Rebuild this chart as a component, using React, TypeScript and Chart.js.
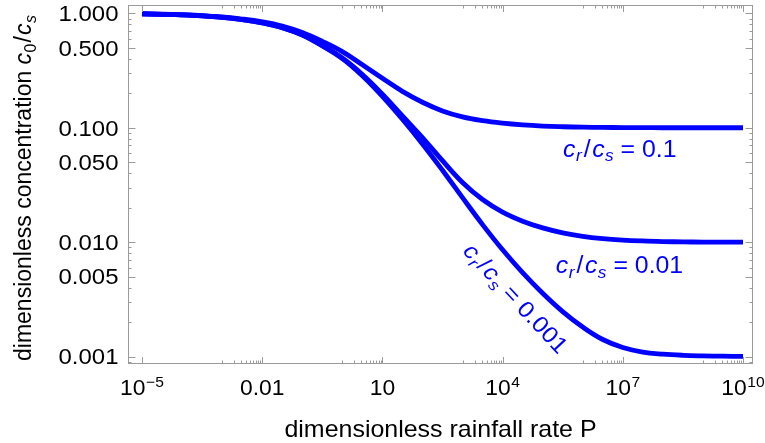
import React, { useEffect, useRef } from 'react';
import { Chart, registerables } from 'chart.js';

Chart.register(...registerables);

// ---- data (log10 values) ----
const rainfallExponents = [-5, -4.5, -4, -3.5, -3, -2.5, -2, -1.5, -1, -0.5, 0, 0.5, 1, 1.5, 2, 2.5, 3, 3.5, 4, 4.5, 5, 5.5, 6, 6.5, 7, 7.5, 8, 8.5, 9, 9.5, 10];

const logConcRatio0_1 = [-0.004, -0.008, -0.013, -0.020, -0.032, -0.050, -0.075, -0.112, -0.168, -0.245, -0.335, -0.450, -0.568, -0.682, -0.777, -0.853, -0.905, -0.938, -0.960, -0.975, -0.985, -0.991, -0.995, -0.997, -0.998, -0.999, -1.0, -1.0, -1.0, -1.0, -1.0];

const logConcRatio0_01 = [-0.005, -0.009, -0.014, -0.022, -0.035, -0.055, -0.083, -0.125, -0.188, -0.281, -0.390, -0.534, -0.706, -0.896, -1.086, -1.288, -1.478, -1.627, -1.737, -1.816, -1.875, -1.918, -1.948, -1.968, -1.981, -1.989, -1.994, -1.997, -1.999, -2.0, -2.0];

const logConcRatio0_001 = [-0.005, -0.009, -0.014, -0.022, -0.035, -0.055, -0.083, -0.125, -0.190, -0.285, -0.396, -0.546, -0.726, -0.926, -1.141, -1.371, -1.611, -1.846, -2.066, -2.266, -2.446, -2.606, -2.741, -2.850, -2.920, -2.960, -2.978, -2.988, -2.993, -2.996, -2.997];

const curveRatioLabels = ['0.1', '0.01', '0.001'];

// axis ranges (log10)
const xRangeExp = [-5.349, 10.25];
const yRangeExp = [-3.064, 0.0725];

// tick values & labels
const xMajorExponents = [-5, -2, 1, 4, 7, 10];
const xTickBase = ['10', '0.01', '10', '10', '10', '10'];
const xTickSup = ['\u22125', '', '', '4', '7', '10'];
const yMajorValues = [1, 0.5, 0.1, 0.05, 0.01, 0.005, 0.001];
const yTickLabels = ['1.000', '0.500', '0.100', '0.050', '0.010', '0.005', '0.001'];

// label anchors (log10 data coordinates) and rotation
const labelAnchors = [
  { lx: 5.51, ly: -1.255, angle: 0 },
  { lx: 5.33, ly: -2.269, angle: 0 },
  { lx: 2.987, ly: -2.085, angle: 47 },
];

const FONT = '"Liberation Sans", Arial, Helvetica, sans-serif';
const BLUE = '#0000ff';
const GRAY = '#9a9a9a';

type Run = { text: string; size: number; italic?: boolean; dy?: number; gap?: number };

function fontOf(r: Run) {
  return `${r.italic ? 'italic ' : ''}${r.size}px ${FONT}`;
}

function drawRuns(ctx: CanvasRenderingContext2D, runs: Run[], x: number, y: number, align: 'left' | 'center' | 'right' = 'left', sx = 1) {
  const widths = runs.map((r) => {
    ctx.font = fontOf(r);
    return ctx.measureText(r.text).width * sx;
  });
  let total = 0;
  runs.forEach((r, i) => (total += widths[i] + (i < runs.length - 1 ? r.gap || 0 : 0)));
  let cx = align === 'left' ? x : align === 'center' ? x - total / 2 : x - total;
  ctx.textAlign = 'left';
  ctx.textBaseline = 'alphabetic';
  runs.forEach((r, i) => {
    ctx.font = fontOf(r);
    ctx.save();
    ctx.translate(cx, y + (r.dy || 0));
    ctx.scale(sx, 1);
    ctx.fillText(r.text, 0, 0);
    ctx.restore();
    cx += widths[i] + (r.gap || 0);
  });
}

function curveLabelRuns(value: string): Run[] {
  return [
    { text: 'c', size: 23, italic: true, gap: 0.5 },
    { text: 'r', size: 16, italic: true, dy: 4.5, gap: 2 },
    { text: '/', size: 23, gap: 1.5 },
    { text: 'c', size: 23, italic: true, gap: 0.5 },
    { text: 's', size: 16, italic: true, dy: 4.5, gap: 0 },
    { text: ' = ', size: 23 },
    { text: value, size: 23 },
  ];
}

const framePlugin = {
  id: 'framePlugin',
  afterDraw(chart: any) {
    const { ctx, chartArea: a } = chart;
    const xs = chart.scales.x;
    const ys = chart.scales.y;
    ctx.save();
    // frame
    ctx.strokeStyle = GRAY;
    ctx.lineWidth = 1;
    ctx.strokeRect(a.left + 0.5, a.top + 0.5, a.right - a.left - 1, a.bottom - a.top - 1);

    // x ticks
    const xTicks: { v: number; major: boolean }[] = [];
    xMajorExponents.forEach((e, i) => {
      xTicks.push({ v: Math.pow(10, e), major: true });
      if (i > 0) for (let k = 1; k <= 9; k++) xTicks.push({ v: k * Math.pow(10, e - 1), major: false });
    });
    ctx.beginPath();
    xTicks.forEach((t) => {
      const px = Math.round(xs.getPixelForValue(t.v)) + 0.5;
      const len = t.major ? 7 : 3.5;
      ctx.moveTo(px, a.bottom);
      ctx.lineTo(px, a.bottom - len);
      ctx.moveTo(px, a.top);
      ctx.lineTo(px, a.top + len);
    });
    // y ticks
    for (let n = -4; n <= 0; n++) {
      for (let k = 1; k <= 9; k++) {
        const v = k * Math.pow(10, n);
        if (v < ys.min || v > ys.max) continue;
        const major = yMajorValues.some((m) => Math.abs(m - v) / m < 1e-6);
        const py = Math.round(ys.getPixelForValue(v)) + 0.5;
        const len = major ? 7.5 : 3.5;
        ctx.moveTo(a.left, py);
        ctx.lineTo(a.left + len, py);
        ctx.moveTo(a.right, py);
        ctx.lineTo(a.right - len, py);
      }
    }
    ctx.stroke();

    // tick labels
    ctx.fillStyle = '#000';
    xMajorExponents.forEach((e, i) => {
      const px = xs.getPixelForValue(Math.pow(10, e));
      const runs: Run[] = [{ text: xTickBase[i], size: 22, gap: 0.5 }];
      if (xTickSup[i]) runs.push({ text: xTickSup[i], size: 15, dy: -8 });
      drawRuns(ctx, runs, px, 395, 'center', 1.04);
    });
    yMajorValues.forEach((v, i) => {
      const py = ys.getPixelForValue(v);
      drawRuns(ctx, [{ text: yTickLabels[i], size: 22 }], 118.5, py + 7.8, 'right', 1.09);
    });

    // axis titles
    drawRuns(ctx, [{ text: 'dimensionless rainfall rate P', size: 24 }], (a.left + a.right) / 2, 437, 'center', 1.04);
    ctx.save();
    ctx.translate(31, 361);
    ctx.rotate(-Math.PI / 2);
    drawRuns(ctx, [
      { text: 'dimensionless concentration ', size: 23 },
      { text: 'c', size: 23, italic: true, gap: 0.5 },
      { text: '0', size: 16, dy: 5, gap: 1 },
      { text: '/', size: 23, gap: 1 },
      { text: 'c', size: 23, italic: true, gap: 0.5 },
      { text: 's', size: 16, italic: true, dy: 5 },
    ], 0, 0, 'left');
    ctx.restore();

    // curve labels
    ctx.fillStyle = BLUE;
    labelAnchors.forEach((l, i) => {
      const px = xs.getPixelForValue(Math.pow(10, l.lx));
      const py = ys.getPixelForValue(Math.pow(10, l.ly));
      ctx.save();
      ctx.translate(px, py);
      ctx.rotate((l.angle * Math.PI) / 180);
      drawRuns(ctx, curveLabelRuns(curveRatioLabels[i]), 0, 0, 'left', 1.08);
      ctx.restore();
    });
    ctx.restore();
  },
};

export default function App() {
  const ref = useRef<HTMLCanvasElement>(null);
  useEffect(() => {
    document.body.style.margin = '0';
    const mk = (logs: number[]) => rainfallExponents.map((e, i) => ({ x: Math.pow(10, e), y: Math.pow(10, logs[i]) }));
    const ds = (label: string, logs: number[]) => ({
      label,
      data: mk(logs),
      borderColor: BLUE,
      borderWidth: 4.8,
      pointRadius: 0,
      fill: false,
      tension: 0.4,
      borderJoinStyle: 'round' as const,
    });
    const chart = new Chart(ref.current!, {
      type: 'line',
      data: {
        datasets: [
          ds('cr/cs = 0.1', logConcRatio0_1),
          ds('cr/cs = 0.01', logConcRatio0_01),
          ds('cr/cs = 0.001', logConcRatio0_001),
        ],
      },
      options: {
        responsive: false,
        animation: false,
        events: [],
        layout: { padding: { left: 128, right: 12, top: 5, bottom: 79 } },
        plugins: { legend: { display: false }, tooltip: { enabled: false } },
        scales: {
          x: {
            type: 'logarithmic',
            display: false,
            bounds: 'data',
            min: Math.pow(10, xRangeExp[0]),
            max: Math.pow(10, xRangeExp[1]),
          },
          y: {
            type: 'logarithmic',
            display: false,
            bounds: 'data',
            min: Math.pow(10, yRangeExp[0]),
            max: Math.pow(10, yRangeExp[1]),
          },
        },
      },
      plugins: [framePlugin],
    });
    return () => chart.destroy();
  }, []);
  return (
    <div style={{ width: 765, height: 443, background: '#fff' }}>
      <canvas ref={ref} width={765} height={443} style={{ display: 'block' }} />
    </div>
  );
}
